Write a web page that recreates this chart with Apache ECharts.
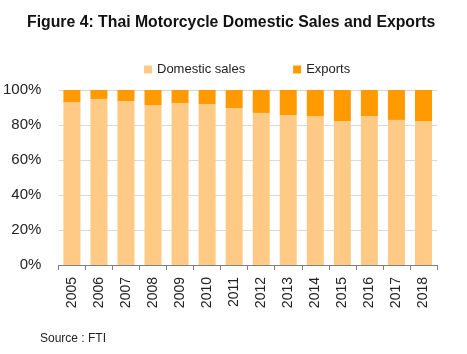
<!DOCTYPE html>
<html>
<head>
<meta charset="utf-8">
<script src="https://cdn.jsdelivr.net/npm/echarts@6/dist/echarts.min.js"></script>
<style>
  html, body { margin: 0; padding: 0; background: #fff; }
  #chart { width: 467px; height: 354px; }
</style>
</head>
<body>
<div id="chart"></div>
<script>
const years = ["2005", "2006", "2007", "2008", "2009", "2010", "2011",
  "2012", "2013", "2014", "2015", "2016", "2017", "2018"];
const domesticShare = [93.1, 94.9, 93.7, 91.4, 92.6, 92.0, 89.7,
  86.9, 85.7, 85.1, 82.3, 85.1, 82.9, 82.3];
const exportShare = [6.9, 5.1, 6.3, 8.6, 7.4, 8.0, 10.3,
  13.1, 14.3, 14.9, 17.7, 14.9, 17.1, 17.7];
const yTicks = [0, 20, 40, 60, 80, 100];

const font = "'Liberation Sans', Arial, sans-serif";
const chart = echarts.init(document.getElementById("chart"), null, { renderer: "canvas" });

chart.setOption({
  animation: false,
  title: {
    text: "Figure 4: Thai Motorcycle Domestic Sales and Exports",
    left: 22,
    top: 10,
    textStyle: { fontFamily: font, fontWeight: "bold", fontSize: 15.8, color: "#111" },
  },
  legend: {
    top: 58,
    left: 139,
    itemWidth: 8,
    itemHeight: 8,
    itemGap: 48,
    icon: "rect",
    textStyle: { fontFamily: font, fontSize: 13, color: "#222" },
    data: ["Domestic sales", "Exports"],
  },
  grid: { left: 57, right: 30, top: 90, bottom: 89 },
  xAxis: {
    type: "category",
    data: years,
    axisLine: { lineStyle: { color: "#808080" } },
    axisTick: { show: true, length: 5, lineStyle: { color: "#808080" } },
    axisLabel: { rotate: 90, fontFamily: font, fontSize: 14, color: "#222", margin: 12 },
  },
  yAxis: {
    type: "value",
    min: yTicks[0],
    max: yTicks[yTicks.length - 1],
    interval: 20,
    axisLine: { show: false },
    axisTick: { show: false },
    splitLine: { lineStyle: { color: "#d9d9d9" } },
    axisLabel: { formatter: "{value}%", fontFamily: font, fontSize: 15, color: "#222", margin: 17 },
  },
  series: [
    {
      name: "Domestic sales",
      type: "bar",
      stack: "share",
      barWidth: 17,
      data: domesticShare,
      itemStyle: { color: "#FFCA85" },
    },
    {
      name: "Exports",
      type: "bar",
      stack: "share",
      barWidth: 17,
      data: exportShare,
      itemStyle: { color: "#FF9A00" },
    },
  ],
  graphic: [
    {
      type: "text",
      left: 40,
      top: 333,
      style: { text: "Source : FTI", font: "12px " + font, fill: "#222" },
    },
  ],
});
</script>
</body>
</html>
